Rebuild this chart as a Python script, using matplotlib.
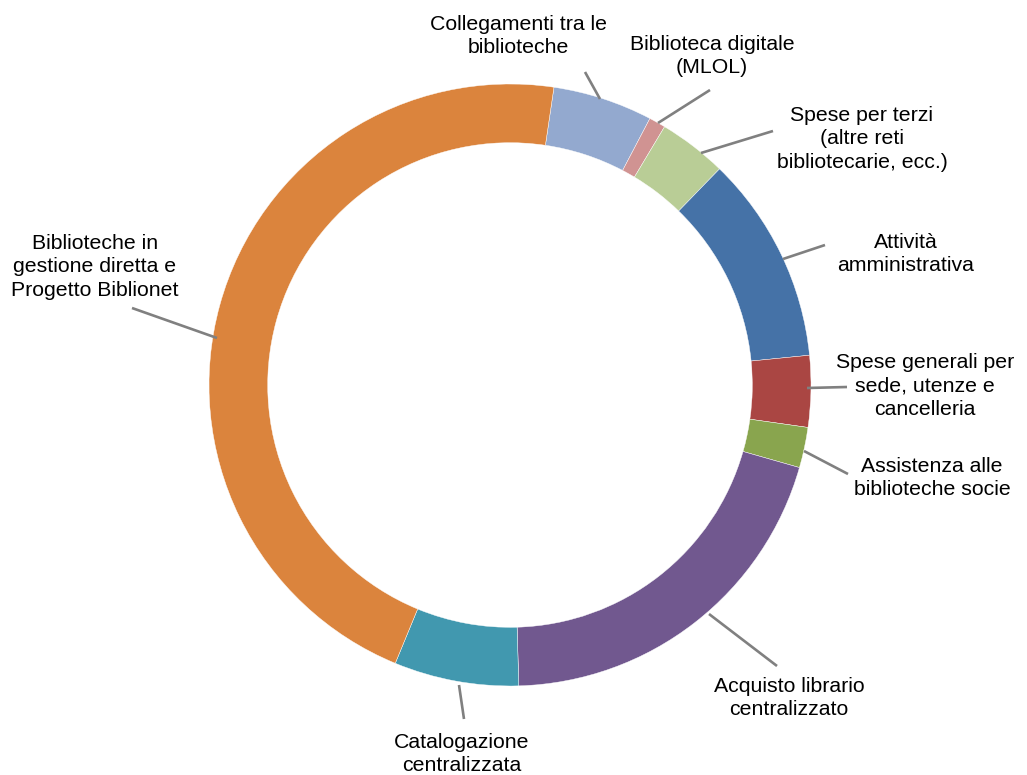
import numpy as np
import matplotlib.pyplot as plt

plt.rcParams['font.family'] = ['Liberation Sans', 'DejaVu Sans']

# slice order is clockwise starting just right of 12 o'clock
labels = [
    "Collegamenti tra le\nbiblioteche",
    "Biblioteca digitale\n(MLOL)",
    "Spese per terzi\n(altre reti\nbibliotecarie, ecc.)",
    "Attività\namministrativa",
    "Spese generali per\nsede, utenze e\ncancelleria",
    "Assistenza alle\nbiblioteche socie",
    "Acquisto librario\ncentralizzato",
    "Catalogazione\ncentralizzata",
    "Biblioteche in\ngestione diretta e\nProgetto Biblionet",
]
shares = [5.36, 0.89, 3.67, 11.17, 3.83, 2.17, 20.11, 6.69, 46.11]
colors = ["#93A9CF", "#D09392", "#B9CD96", "#4572A7", "#AA4643",
          "#89A54E", "#71588F", "#4198AF", "#DB843D"]

# layout, in pixels of the 1027x775 image:
# label centre, leader end at the label, leader end at the ring
label_px = [(518, 36), (712, 56), (862, 139), (906, 254), (925, 386),
            (932, 478), (789, 698), (462, 754), (95, 267)]
leader_out_px = [(585, 72), (710, 90), (773, 131), (825, 245), (847, 387),
                 (848, 474), (777, 666), (464, 719), (132, 308)]
leader_in_px = [(600, 99), (658, 123), (701, 153), (783, 259), (807, 388),
                (804, 451), (709, 614), (459, 685), (217, 338)]

W, H = 1027, 775
CX, CY, R = 510, 385, 301


def px(x, y):
    return (x - CX) / R, (CY - y) / R


fig = plt.figure(figsize=(W / 100, H / 100), dpi=100)
ax = fig.add_axes([0, 0, 1, 1])
ax.axis('off')

start = 90 - 8.4
wedges, _ = ax.pie(shares, colors=colors, startangle=start, counterclock=False,
                   radius=1.0, wedgeprops=dict(width=0.195, edgecolor='white', linewidth=0.3))
ax.set_xlim(-CX / R, (W - CX) / R)
ax.set_ylim(-(H - CY) / R, CY / R)
ax.set_aspect('auto')

for lab, lp, p_out, p_in in zip(labels, label_px, leader_out_px, leader_in_px):
    x0, y0 = px(*p_in)
    x1, y1 = px(*p_out)
    ax.plot([x0, x1], [y0, y1], color='#808080', lw=1.9, solid_capstyle='butt')
    tx, ty = px(*lp)
    ax.text(tx, ty, lab, ha='center', va='center', multialignment='center',
            fontsize=15.3, color='black', linespacing=1.31)

fig.savefig('out.png', dpi=100)
